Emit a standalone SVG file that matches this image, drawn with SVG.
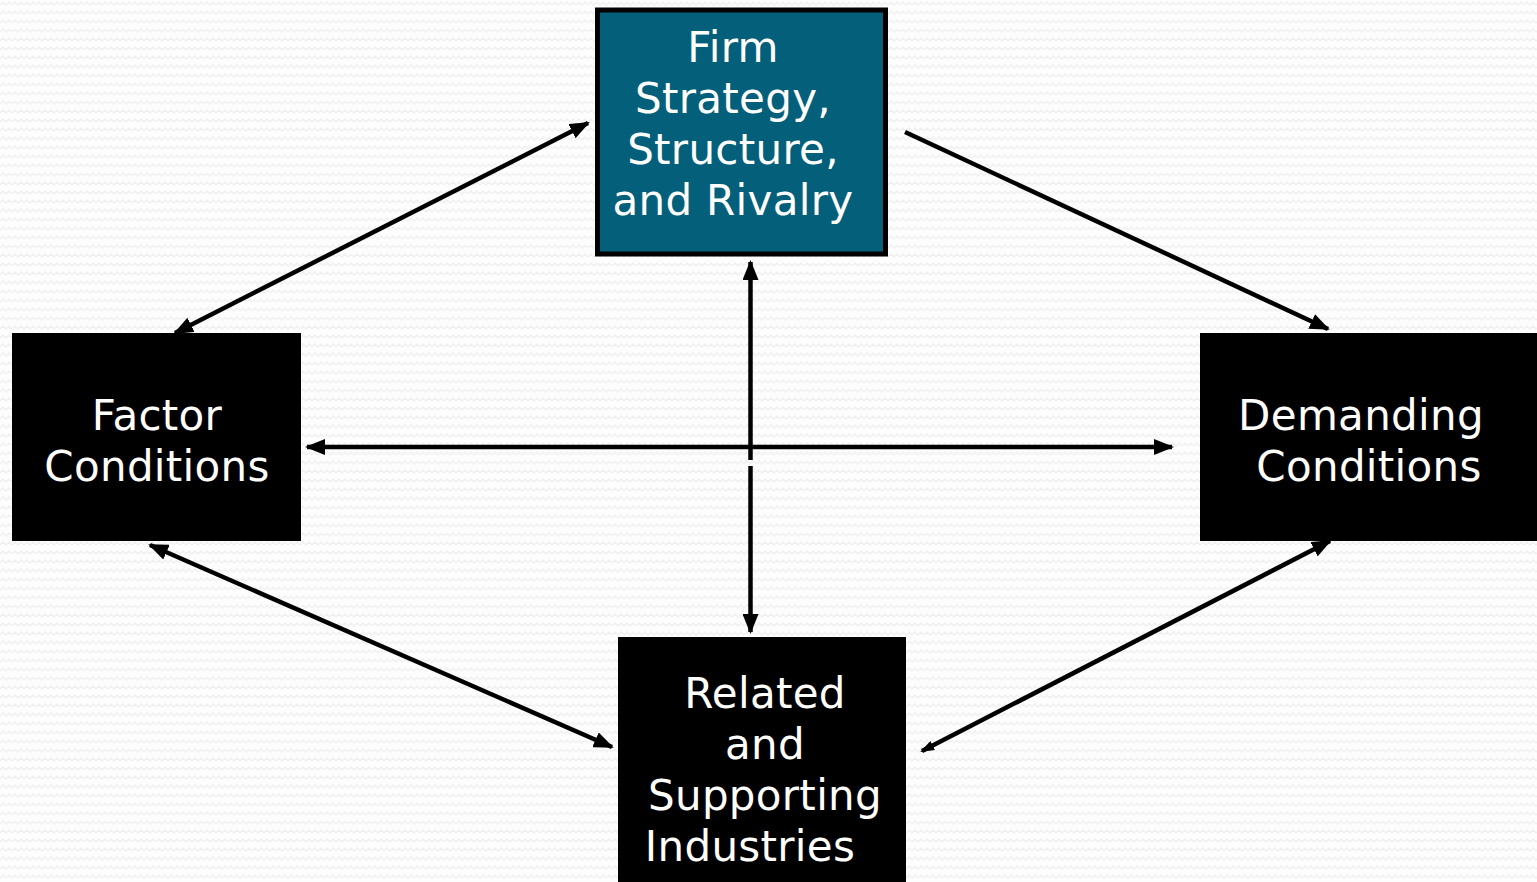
<svg xmlns="http://www.w3.org/2000/svg" width="1537" height="882" viewBox="0 0 1537 882">
<defs>
<pattern id="bg" width="12" height="9" patternUnits="userSpaceOnUse">
<rect width="12" height="9" fill="#fdfdfd"/>
<polyline points="0,5 3,2 6,5 9,2 12,5" fill="none" stroke="#f1f1f1" stroke-width="1.5"/>
</pattern>
<marker id="ah" viewBox="0 0 20 16" refX="18" refY="8" markerWidth="20" markerHeight="16" markerUnits="userSpaceOnUse" orient="auto-start-reverse">
<path d="M0,0 L20,8 L0,16 z" fill="#000"/>
</marker>
<marker id="ahs" viewBox="0 0 14 10" refX="12" refY="5" markerWidth="14" markerHeight="10" markerUnits="userSpaceOnUse" orient="auto-start-reverse">
<path d="M0,0 L14,5 L0,10 z" fill="#000"/>
</marker>
</defs>
<style>
.lbl{font-family:"DejaVu Sans","Liberation Sans",sans-serif;font-size:42px;letter-spacing:0.3px;fill:#fff;text-anchor:middle}
.con{stroke:#000;stroke-width:4.5;fill:none}
</style>
<rect width="1537" height="882" fill="url(#bg)"/>

<g id="connectors">
<line class="con" x1="588" y1="123" x2="175" y2="333" marker-start="url(#ah)" marker-end="url(#ah)"/>
<line class="con" x1="905" y1="132" x2="1328" y2="329" marker-end="url(#ah)"/>
<line class="con" x1="750.5" y1="262" x2="750.5" y2="460" marker-start="url(#ah)"/>
<line class="con" x1="750.5" y1="466" x2="750.5" y2="632" marker-end="url(#ah)"/>
<line class="con" x1="307" y1="447" x2="1172" y2="447" marker-start="url(#ah)" marker-end="url(#ah)"/>
<line class="con" x1="150" y1="545" x2="612" y2="747" marker-start="url(#ah)" marker-end="url(#ah)"/>
<line class="con" x1="922" y1="751" x2="1330" y2="541" marker-start="url(#ahs)" marker-end="url(#ah)"/>
</g>

<g id="firm">
<rect x="597.5" y="10" width="288" height="244" fill="#04607a" stroke="#000" stroke-width="5"/>
<text class="lbl" x="733" y="62">Firm</text>
<text class="lbl" x="733" y="113">Strategy,</text>
<text class="lbl" x="733" y="164">Structure,</text>
<text class="lbl" x="733" y="215">and Rivalry</text>
</g>

<g id="factor">
<rect x="12" y="333" width="289" height="208" fill="#000"/>
<text class="lbl" x="157" y="430">Factor</text>
<text class="lbl" x="157" y="481">Conditions</text>
</g>

<g id="demanding">
<rect x="1200" y="333" width="337" height="208" fill="#000"/>
<text class="lbl" x="1361" y="430">Demanding</text>
<text class="lbl" x="1369" y="481">Conditions</text>
</g>

<g id="related">
<rect x="618" y="637" width="288" height="245" fill="#000"/>
<text class="lbl" x="765" y="708">Related</text>
<text class="lbl" x="765" y="759">and</text>
<text class="lbl" x="765" y="810">Supporting</text>
<text class="lbl" x="750" y="861">Industries</text>
</g>
</svg>
